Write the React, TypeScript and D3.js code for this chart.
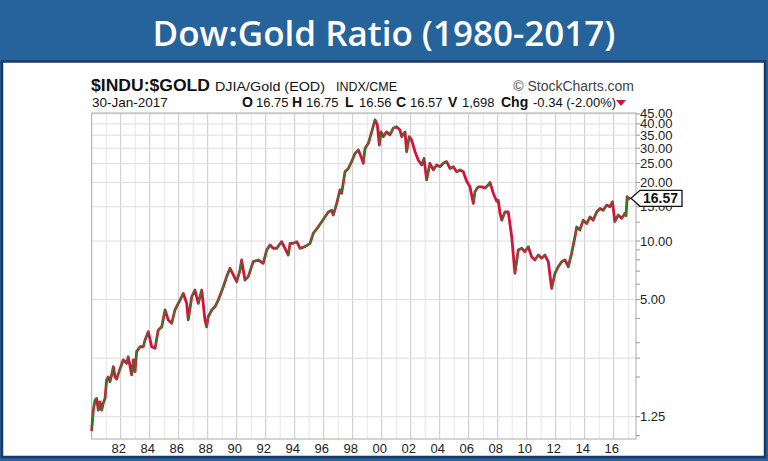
import React from 'react'
import * as d3 from 'd3'

// decimal year of each reading, and the Dow:Gold ratio read at it
const obsTime = [
  1980.0, 1980.11, 1980.23, 1980.34, 1980.46, 1980.57, 1980.69, 1980.8, 1980.92, 1981.03,
  1981.14, 1981.26, 1981.38, 1981.49, 1981.61, 1981.72, 1981.95, 1982.18, 1982.41, 1982.52,
  1982.76, 1982.87, 1982.99, 1983.1, 1983.33, 1983.56, 1983.68, 1983.9, 1984.14, 1984.37,
  1984.59, 1984.83, 1985.06, 1985.28, 1985.52, 1985.74, 1986.09, 1986.32, 1986.55, 1986.66,
  1986.9, 1987.12, 1987.35, 1987.59, 1987.81, 1987.93, 1988.04, 1988.28, 1988.5, 1988.73,
  1989.08, 1989.31, 1989.54, 1989.77, 1990.0, 1990.23, 1990.34, 1990.57, 1990.8, 1991.14,
  1991.49, 1991.83, 1992.07, 1992.3, 1992.52, 1992.76, 1993.1, 1993.33, 1993.56, 1993.68,
  1993.9, 1994.14, 1994.37, 1994.71, 1995.06, 1995.28, 1995.63, 1995.97, 1996.32, 1996.55,
  1996.66, 1996.9, 1997.12, 1997.24, 1997.47, 1997.7, 1997.93, 1998.16, 1998.39, 1998.62,
  1998.73, 1998.85, 1999.08, 1999.31, 1999.54, 1999.7, 1999.84, 1999.95, 2000.11, 2000.34,
  2000.57, 2000.8, 2001.03, 2001.26, 2001.38, 2001.61, 2001.72, 2001.9, 2002.07, 2002.3,
  2002.52, 2002.76, 2002.92, 2003.1, 2003.33, 2003.56, 2003.79, 2004.02, 2004.25, 2004.48,
  2004.71, 2004.94, 2005.17, 2005.4, 2005.63, 2005.86, 2006.09, 2006.32, 2006.43, 2006.66,
  2006.9, 2007.12, 2007.35, 2007.47, 2007.7, 2007.93, 2008.04, 2008.16, 2008.28, 2008.5,
  2008.73, 2008.97, 2009.19, 2009.42, 2009.66, 2009.88, 2010.11, 2010.34, 2010.57, 2010.8,
  2011.03, 2011.26, 2011.49, 2011.72, 2011.95, 2012.18, 2012.41, 2012.64, 2012.87, 2013.1,
  2013.33, 2013.45, 2013.67, 2013.9, 2014.14, 2014.37, 2014.59, 2014.83, 2015.06, 2015.28,
  2015.52, 2015.74, 2015.92, 2016.08, 2016.31, 2016.55, 2016.78, 2016.85, 2016.93, 2017.0,
  2017.08,
]

const obsRatio = [
  1.07, 1.35, 1.52, 1.55, 1.35, 1.49, 1.35, 1.47, 1.55, 1.93,
  2.0, 1.89, 2.05, 2.26, 2.0, 1.95, 2.2, 2.45, 2.35, 2.54,
  2.05, 2.45, 2.13, 2.7, 2.86, 2.86, 3.1, 3.42, 2.86, 2.81,
  3.49, 3.62, 4.42, 3.93, 3.78, 4.42, 4.97, 5.38, 4.78, 3.93,
  5.17, 5.6, 4.78, 5.6, 3.93, 3.62, 4.08, 4.42, 4.59, 4.97,
  5.82, 6.56, 7.24, 6.69, 6.18, 7.09, 7.99, 6.3, 6.56, 7.83,
  7.99, 7.68, 8.99, 9.54, 9.17, 9.17, 9.92, 9.17, 8.47, 9.73,
  9.73, 9.92, 9.17, 9.35, 9.73, 10.95, 11.84, 12.9, 14.1, 14.4,
  13.6, 15.6, 18.3, 17.6, 22.7, 23.6, 25.6, 28.2, 29.4, 26.6,
  25.1, 29.9, 31.8, 36.4, 41.9, 39.5, 31.1, 36.4, 34.4, 36.4,
  35.1, 38.0, 38.7, 37.2, 34.4, 36.4, 28.8, 34.4, 33.0, 28.8,
  26.1, 24.6, 26.6, 20.6, 25.1, 23.2, 24.6, 24.1, 25.1, 25.6,
  23.6, 24.1, 22.7, 23.2, 22.7, 20.3, 19.0, 15.6, 17.9, 19.0,
  19.0, 18.7, 19.4, 20.0, 17.6, 16.0, 16.2, 13.9, 12.8, 14.1,
  14.1, 10.5, 6.82, 8.99, 9.17, 8.81, 9.35, 8.3, 7.99, 8.47,
  8.15, 8.47, 7.83, 5.71, 6.82, 7.38, 7.83, 7.99, 7.38, 8.64,
  10.5, 11.8, 11.4, 12.8, 12.3, 13.3, 12.8, 14.1, 14.7, 14.4,
  15.3, 15.0, 15.9, 12.6, 13.6, 13.1, 13.9, 13.5, 16.9, 16.4,
  16.57,
]

const gridValues = [1.25, 2.5, 5, 10, 15, 20, 25, 30, 35, 40, 45]
const labelValues = [1.25, 5, 10, 15, 20, 25, 30, 35, 40, 45]
const minorTicks = [1, 2, 3, 4, 6, 7, 8, 9, 12.5]
const gridYears = d3.range(1981, 2018)
const labelYears = d3.range(1982, 2017, 2)

const lastClose = 16.57
const titleText = 'Dow:Gold Ratio (1980-2017)'
const quote = [
  { k: 'O', v: '16.75', kx: 242 },
  { k: 'H', v: '16.75', kx: 292 },
  { k: 'L', v: '16.56', kx: 345 },
  { k: 'C', v: '16.57', kx: 396 },
  { k: 'V', v: '1,698', kx: 448 },
]

const W = 768
const H = 461
const plot = { left: 91.7, right: 636, top: 113, bottom: 439 }

const UP = '#1f8a26'
const DOWN = '#d5123c'
const sans = "'Liberation Sans', Arial, sans-serif"

export default function App() {
  const x = d3.scaleLinear().domain([1980, 2017.54]).range([plot.left, plot.right])
  const y = d3.scaleLog().domain([0.96, 45.5]).range([plot.bottom, plot.top])

  const idx = d3.range(obsRatio.length)
  const line = d3.line<number>().x(i => x(obsTime[i])).y(i => y(obsRatio[i]))
  const upSegs = idx.slice(1).filter(i => obsRatio[i] > obsRatio[i - 1])
    .map(i => line([i - 1, i]) as string)

  const cy = y(lastClose)

  return (
    <div style={{ position: 'fixed', left: 0, top: 0 }}>
      <svg width={W} height={H} style={{ display: 'block' }}>
        <rect x={0} y={0} width={W} height={H} fill="#26639b" />
        <text x={W / 2} y={46} textAnchor="middle" fill="#fff"
          fontFamily="'Open Sans', sans-serif" fontWeight={600} fontSize={35}>
          {titleText}
        </text>
        <rect x={2} y={61.5} width={763} height={395.5} fill="#fff" stroke="#1b3766" strokeWidth={2.5} />

        {/* header lines */}
        <g fontFamily={sans} fill="#111">
          <text x={91} y={91} fontSize={17} fontWeight="bold" textLength={119} lengthAdjust="spacingAndGlyphs">$INDU:$GOLD</text>
          <text x={215} y={91} fontSize={13} textLength={110} lengthAdjust="spacingAndGlyphs">DJIA/Gold (EOD)</text>
          <text x={336} y={91} fontSize={13} textLength={61} lengthAdjust="spacingAndGlyphs">INDX/CME</text>
          <text x={634} y={91} fontSize={14} textAnchor="end" fill="#444">© StockCharts.com</text>
          <text x={92} y={107} fontSize={13.5}>30-Jan-2017</text>
          {quote.map(q => (
            <g key={q.k}>
              <text x={q.kx} y={107} fontSize={14} fontWeight="bold">{q.k}</text>
              <text x={q.kx + 14} y={107} fontSize={13}>{q.v}</text>
            </g>
          ))}
          <text x={501} y={107} fontSize={14} fontWeight="bold">Chg</text>
          <text x={533} y={107} fontSize={13}>-0.34 (-2.00%)</text>
          <path d="M616,100 L626,100 L621,106 Z" fill={DOWN} />
        </g>

        {/* grid */}
        <g>
          {gridYears.map(yr => (
            <line key={yr} x1={x(yr)} x2={x(yr)} y1={plot.top} y2={plot.bottom}
              stroke={yr % 2 === 0 ? '#c9c9c9' : '#e6e6e6'} strokeWidth={1} />
          ))}
          {gridValues.map(v => (
            <line key={v} x1={plot.left} x2={plot.right} y1={y(v)} y2={y(v)}
              stroke="#dddddd" strokeWidth={1} />
          ))}
          <rect x={plot.left} y={plot.top} width={plot.right - plot.left} height={plot.bottom - plot.top}
            fill="none" stroke="#a9a9a9" strokeWidth={1} />
        </g>

        {/* right axis ticks */}
        <g stroke="#999">
          {[...gridValues, ...minorTicks].map(v => (
            <line key={'t' + v} x1={plot.right} x2={plot.right + 4} y1={y(v)} y2={y(v)} />
          ))}
        </g>
        <g fontFamily={sans} fontSize={13} fill="#222">
          {labelValues.map(v => (
            <text key={v} x={plot.right + 4} y={y(v) + 4.5}>{v.toFixed(2)}</text>
          ))}
          {labelYears.map(yr => (
            <text key={yr} x={x(yr) - 2} y={453} textAnchor="middle">
              {String(yr % 100).padStart(2, '0')}
            </text>
          ))}
        </g>

        {/* price series: red bars underneath, green on the rising legs */}
        <g fill="none" strokeLinejoin="round" strokeLinecap="round">
          <path d={line(idx) as string} stroke={DOWN} strokeWidth={2.8} />
          {upSegs.map((d, i) => (
            <path key={i} d={d} stroke={UP} strokeWidth={1.4} />
          ))}
        </g>

        {/* last close callout */}
        <g>
          <path d={`M${plot.right - 5},${cy} L${plot.right + 4},${cy - 8} L${plot.right + 46},${cy - 8} L${plot.right + 46},${cy + 8} L${plot.right + 4},${cy + 8} Z`}
            fill="#fff" stroke="#111" strokeWidth={1.3} />
          <text x={plot.right + 7} y={cy + 5} fontFamily={sans} fontSize={14} fontWeight="bold" fill="#111">
            {lastClose.toFixed(2)}
          </text>
        </g>
      </svg>
    </div>
  )
}
